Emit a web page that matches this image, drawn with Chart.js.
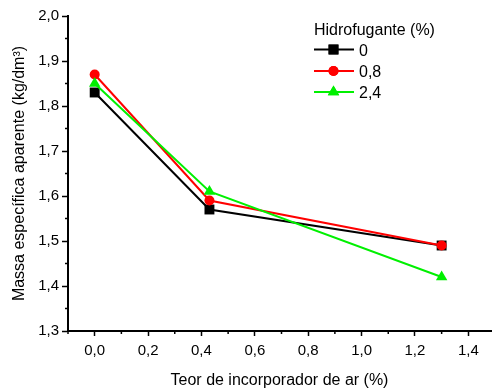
<!DOCTYPE html>
<html>
<head>
<meta charset="utf-8">
<script src="https://cdn.jsdelivr.net/npm/chart.js@4/dist/chart.umd.min.js"></script>
<style>
  html, body { margin: 0; padding: 0; background: #ffffff; }
  #wrap { width: 498px; height: 390px; }
</style>
</head>
<body>
<div id="wrap"><canvas id="c" width="498" height="390"></canvas></div>
<script>
// Air-entrainer content (%) on x, bulk density (kg/dm³) for each water-repellent dosage
const airContent = [0.0, 0.43, 1.30];
const hydro0 = [1.83, 1.57, 1.49];
const hydro08 = [1.87, 1.59, 1.49];
const hydro24 = [1.85, 1.61, 1.42];

const seriesLabels = ['0', '0,8', '2,4'];
const legendTitle = 'Hidrofugante (%)';
const xTitle = 'Teor de incorporador de ar (%)';
const yTitle = 'Massa específica aparente (kg/dm³)';

const xMajorTicks = [0.0, 0.2, 0.4, 0.6, 0.8, 1.0, 1.2, 1.4];
const xMinorTicks = [-0.1, 0.1, 0.3, 0.5, 0.7, 0.9, 1.1, 1.3];
const yMajorTicks = [1.3, 1.4, 1.5, 1.6, 1.7, 1.8, 1.9, 2.0];
const yMinorTicks = [1.35, 1.45, 1.55, 1.65, 1.75, 1.85, 1.95];

const FONT = "'Liberation Sans', Arial, Helvetica, sans-serif";
const fmt = v => v.toFixed(1).replace('.', ',');

function pts(ys) { return airContent.map((x, i) => ({ x: x, y: ys[i] })); }

const styles = [
  { color: '#000000', pointStyle: 'rect', radius: 7 },
  { color: '#ff0000', pointStyle: 'circle', radius: 5 },
  { color: '#00f000', pointStyle: 'triangle', radius: 6.6 }
];
const seriesData = [hydro0, hydro08, hydro24];

const datasets = seriesData.map((ys, i) => ({
  label: seriesLabels[i],
  data: pts(ys),
  borderColor: styles[i].color,
  backgroundColor: styles[i].color,
  pointBackgroundColor: styles[i].color,
  pointBorderColor: styles[i].color,
  pointStyle: styles[i].pointStyle,
  pointRadius: styles[i].radius,
  pointBorderWidth: 0,
  borderWidth: 2,
  tension: 0,
  order: 3 - i
}));

// short minor ticks on both axes
const minorTicks = {
  id: 'minorTicks',
  afterDraw(chart) {
    const ctx = chart.ctx;
    const xs = chart.scales.x, ys = chart.scales.y;
    ctx.save();
    ctx.strokeStyle = '#000';
    ctx.lineWidth = 1.5;
    ctx.beginPath();
    xMinorTicks.forEach(v => {
      const px = xs.getPixelForValue(v);
      ctx.moveTo(px, xs.top);
      ctx.lineTo(px, xs.top + 3);
    });
    yMinorTicks.forEach(v => {
      const py = ys.getPixelForValue(v);
      ctx.moveTo(ys.right, py);
      ctx.lineTo(ys.right - 3, py);
    });
    ctx.stroke();
    ctx.restore();
  }
};

// in-plot legend with title
const boxedLegend = {
  id: 'boxedLegend',
  afterDraw(chart) {
    const ctx = chart.ctx;
    const x0 = 314, titleY = 31, rowY = [49.5, 71, 92], lineEnd = 354, markX = 333.5, textX = 359;
    ctx.save();
    ctx.fillStyle = '#000';
    ctx.font = '16px ' + FONT;
    ctx.textAlign = 'left';
    ctx.textBaseline = 'middle';
    ctx.fillText(legendTitle, x0, titleY);
    chart.data.datasets.forEach((ds, i) => {
      const y = rowY[i];
      ctx.strokeStyle = ds.borderColor;
      ctx.lineWidth = 2;
      ctx.beginPath();
      ctx.moveTo(x0, y);
      ctx.lineTo(lineEnd, y);
      ctx.stroke();
      ctx.fillStyle = ds.pointBackgroundColor;
      Chart.helpers.drawPoint(ctx, {
        pointStyle: ds.pointStyle,
        radius: ds.pointRadius,
        borderWidth: 0,
        rotation: 0
      }, markX, y);
      ctx.fill();
      ctx.fillStyle = '#000';
      ctx.fillText(ds.label, textX, y + 2);
    });
    ctx.restore();
  }
};

new Chart(document.getElementById('c'), {
  type: 'line',
  data: { datasets: datasets },
  options: {
    responsive: false,
    animation: false,
    layout: { padding: { top: 16, right: 1, left: 0, bottom: 0 } },
    plugins: { legend: { display: false }, tooltip: { enabled: false } },
    scales: {
      x: {
        type: 'linear',
        min: -0.1,
        max: 1.485,
        afterBuildTicks(scale) { scale.ticks = xMajorTicks.map(v => ({ value: v })); },
        afterFit(scale) { scale.height = 59; },
        grid: { drawOnChartArea: false, drawTicks: true, tickLength: 5, tickWidth: 1.5, tickColor: '#000' },
        border: { display: true, color: '#000', width: 2 },
        ticks: {
          color: '#000',
          font: { family: FONT, size: 15 },
          padding: 6,
          maxRotation: 0,
          autoSkip: false,
          callback: v => fmt(v)
        },
        title: {
          display: true,
          text: xTitle,
          color: '#000',
          font: { family: FONT, size: 16 },
          padding: { top: 0, bottom: 0 }
        }
      },
      y: {
        type: 'linear',
        min: 1.3,
        max: 2.0,
        afterBuildTicks(scale) { scale.ticks = yMajorTicks.map(v => ({ value: v })); },
        afterFit(scale) { scale.width = 68; },
        grid: { drawOnChartArea: false, drawTicks: true, tickLength: 6, tickWidth: 1.5, tickColor: '#000' },
        border: { display: true, color: '#000', width: 2 },
        ticks: {
          color: '#000',
          font: { family: FONT, size: 15 },
          padding: 3,
          autoSkip: false,
          callback: v => fmt(v)
        },
        title: {
          display: true,
          text: yTitle,
          color: '#000',
          font: { family: FONT, size: 16 },
          padding: { top: 10, bottom: 0 }
        }
      }
    }
  },
  plugins: [minorTicks, boxedLegend]
});
</script>
</body>
</html>
